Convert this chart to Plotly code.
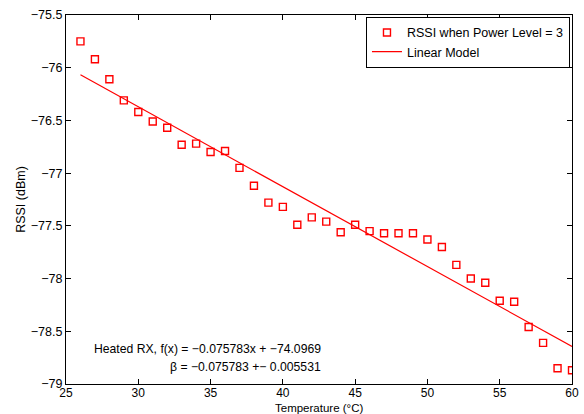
import plotly.graph_objects as go

temperature = list(range(26, 61))
rssi = [-75.75, -75.92, -76.11, -76.31, -76.42, -76.51, -76.57, -76.73, -76.72, -76.80,
        -76.79, -76.95, -77.12, -77.28, -77.32, -77.49, -77.42, -77.46, -77.56, -77.49,
        -77.55, -77.57, -77.57, -77.57, -77.63, -77.70, -77.87, -78.00, -78.04, -78.21,
        -78.22, -78.46, -78.61, -78.85, -78.87]
slope = -0.075783
intercept = -74.0969
slope_err = 0.005531
x_ticks = [25, 30, 35, 40, 45, 50, 55, 60]
y_ticks = [-79, -78.5, -78, -77.5, -77, -76.5, -76, -75.5]

fit_x = [temperature[0], temperature[-1]]
fit_y = [slope * v + intercept for v in fit_x]

font = "Liberation Sans, Arial, Helvetica, sans-serif"
fs = 12.5

fig = go.Figure()
fig.add_trace(go.Scatter(
    x=temperature, y=rssi, mode="markers", name="RSSI when Power Level = 3",
    marker=dict(symbol="square-open", size=7, color="red", line=dict(width=1.4, color="red")),
))
fig.add_trace(go.Scatter(
    x=fit_x, y=fit_y, mode="lines", name="Linear Model",
    line=dict(color="red", width=1.2),
))

axis_common = dict(
    showgrid=False, zeroline=False, showline=True, linecolor="black", linewidth=1.3,
    mirror="ticks", ticks="inside", ticklen=5, tickcolor="black", tickwidth=1,
    automargin=False,
)

fig.update_layout(
    width=584, height=414,
    margin=dict(l=66, r=12, t=15, b=30),
    paper_bgcolor="white", plot_bgcolor="white",
    font=dict(family=font, size=fs, color="black"),
    xaxis=dict(range=[25, 60], tickvals=x_ticks, ticklabelstandoff=-3,
               tickfont=dict(family=font, size=12, color="black"), **axis_common),
    yaxis=dict(range=[-79, -75.5], tickvals=y_ticks,
               tickfont=dict(family=font, size=fs, color="black"),
               title=dict(text="RSSI (dBm)", standoff=2, font=dict(size=fs)),
               **axis_common),
    legend=dict(x=0.996, y=0.995, xanchor="right", yanchor="top",
                bgcolor="white", bordercolor="black", borderwidth=1,
                font=dict(family=font, size=fs), tracegroupgap=0,
                itemwidth=30),
    showlegend=True,
)

# x-axis title placed as text just below the tick labels
fig.add_annotation(
    xref="paper", yref="paper", x=0.5, y=-(407.5 - 384) / 369,
    xanchor="center", yanchor="middle", showarrow=False, borderpad=0,
    text="Temperature (°C)", font=dict(family=font, size=11.5, color="black"),
)

fig.add_annotation(
    xref="paper", yref="paper", x=(323 - 66) / 506, y=(384 - 349) / 369,
    xanchor="right", yanchor="middle", showarrow=False, align="right",
    text=f"Heated RX, f(x) = \u2212{abs(slope):.6f}x + \u2212{abs(intercept):.4f}",
    font=dict(family=font, size=12.2, color="black"),
)
fig.add_annotation(
    xref="paper", yref="paper", x=(323 - 66) / 506, y=(384 - 367) / 369,
    xanchor="right", yanchor="middle", showarrow=False, align="right",
    text=f"β = \u2212{abs(slope):.6f} +\u2212 {slope_err:.6f}",
    font=dict(family=font, size=12.2, color="black"),
)

fig.write_html("out.html")
